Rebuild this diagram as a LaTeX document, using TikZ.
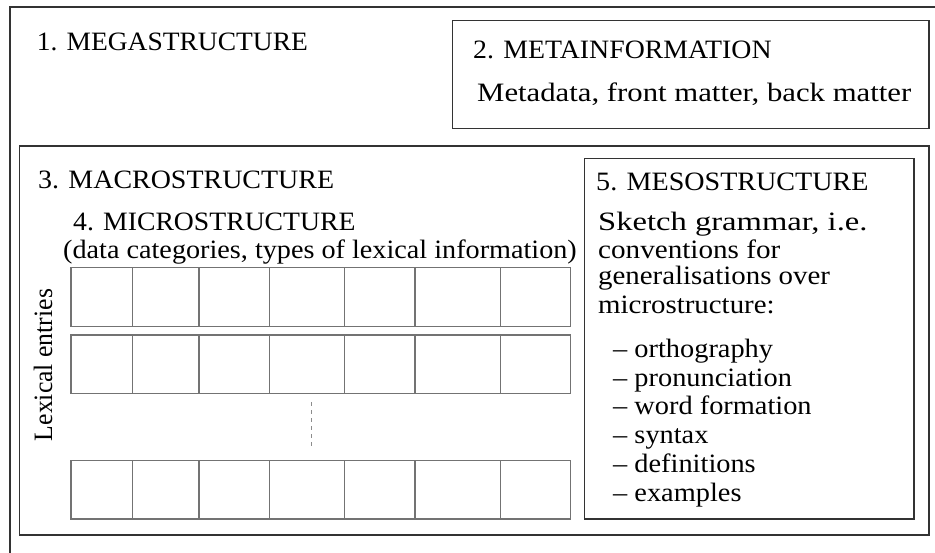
\documentclass[tikz,border=0pt]{standalone}
\usepackage{fontspec}
\setmainfont{Liberation Serif}
\newcommand{\sx}[2]{\scalebox{#1}[1]{#2}}
\begin{document}
\begin{tikzpicture}[x=1pt,y=-1pt,
  box/.style={draw=black!80,line width=1.6pt},
  cell/.style={draw=black!55,line width=1.1pt},
  lbl/.style={anchor=base west,inner sep=0pt,font=\fontsize{26.5}{30}\selectfont}]
\useasboundingbox (0,0) rectangle (935,552);
\begin{scope}
\clip (0,0) rectangle (935,552);
\draw[box] (10,7) rectangle (960,580);
\end{scope}
\draw[box] (452.5,20.5) rectangle (928.7,128.5);
\draw[box] (19.3,145.7) rectangle (928.7,535);
\draw[box] (584.3,158.3) rectangle (914,518.7);
% grid
\foreach \t/\b in {267.7/326.3, 335/393.3, 460.3/519}{
  \draw[cell] (71,\t) rectangle (570.3,\b);
  \foreach \x in {132.3,199,269.3,344.3,415,500.3}{
    \draw[cell] (\x,\t) -- (\x,\b);
  }
}
\coordinate (d1) at (311.7,402);
\coordinate (d2) at (311.7,447);
\draw[draw=black!45,line width=0.8pt,dash pattern=on 4pt off 4pt] (d1) -- (d2);
% texts
\node[lbl] (mega) at (36.7,50) {\sx{1.037}{1. MEGASTRUCTURE}};
\node[lbl] (meta) at (473,58.5) {\sx{1.05}{2. METAINFORMATION}};
\node[lbl] (metad) at (477,101) {\sx{1.16}{Metadata, front matter, back matter}};
\node[lbl] (macro) at (38,188) {\sx{1.055}{3. MACROSTRUCTURE}};
\node[lbl] (micro) at (73,230) {\sx{1.045}{4. MICROSTRUCTURE}};
\node[lbl] (dcat) at (63,258) {\sx{1.064}{(data categories, types of lexical information)}};
\node[lbl] (meso) at (596,190) {\sx{1.06}{5. MESOSTRUCTURE}};
\node[lbl] (m1) at (598,230) {\sx{1.23}{Sketch grammar, i.e.}};
\node[lbl] (m2) at (598,258) {\sx{1.1}{conventions for}};
\node[lbl] (m3) at (598,284) {\sx{1.09}{generalisations over}};
\node[lbl] (m4) at (598,313) {\sx{1.09}{microstructure:}};
\node[lbl] (l1) at (613,357) {\sx{1.07}{– orthography}};
\node[lbl] (l2) at (613,386) {\sx{1.07}{– pronunciation}};
\node[lbl] (l3) at (613,414) {\sx{1.07}{– word formation}};
\node[lbl] (l4) at (613,443) {\sx{1.07}{– syntax}};
\node[lbl] (l5) at (613,472) {\sx{1.07}{– definitions}};
\node[lbl] (l6) at (613,501) {\sx{1.07}{– examples}};
\node[lbl,anchor=base,rotate=90] (lex) at (52,365) {\sx{0.97}{Lexical entries}};
\end{tikzpicture}
\end{document}
